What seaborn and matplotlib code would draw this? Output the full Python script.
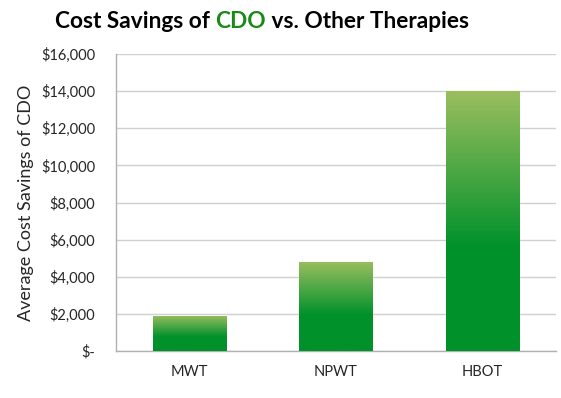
import numpy as np
import pandas as pd
import matplotlib
matplotlib.use("Agg")
import matplotlib.pyplot as plt
from matplotlib.colors import LinearSegmentedColormap
import seaborn as sns

# Chart data
therapies = ["MWT", "NPWT", "HBOT"]
savings = [1900, 4800, 14000]
y_ticks = [0, 2000, 4000, 6000, 8000, 10000, 12000, 14000, 16000]

sns.set_style("white")
plt.rcParams['font.family'] = ['Lato', 'DejaVu Sans']

df = pd.DataFrame({"therapy": therapies, "savings": savings})

fig = plt.figure(figsize=(5.61, 3.98), dpi=100)
ax = fig.add_axes([116 / 561, 1 - 351 / 398, 440 / 561, 297 / 398])

sns.barplot(data=df, x="therapy", y="savings", ax=ax, width=0.5, color="#00912B", zorder=2)

# gradient fill: light green top -> dark green lower part
light = np.array([155, 190, 95]) / 255
dark = np.array([0, 145, 43]) / 255
cmap = LinearSegmentedColormap.from_list("g", [(0, dark), (0.4, dark), (1, light)])
grad = np.linspace(0, 1, 256).reshape(-1, 1)
for p in ax.patches:
    x0, y0 = p.get_x(), p.get_y()
    w, h = p.get_width(), p.get_height()
    im = ax.imshow(grad, cmap=cmap, aspect="auto", origin="lower",
                   extent=[x0, x0 + w, y0, y0 + h], zorder=3)
    im.set_clip_path(p)
    p.set_facecolor("none")
    p.set_edgecolor("none")
ax.set_aspect("auto")
ax.set_xlim(-0.5, 2.5)
ax.set_ylim(0, 16000)

# gridlines
ax.set_yticks(y_ticks)
ax.yaxis.grid(True, color="#d0d0d0", linewidth=1, zorder=0)
ax.set_axisbelow(True)
ax.set_yticklabels(["$-" if v == 0 else f"${v:,}" for v in y_ticks])

# category boundary ticks on x axis
ax.set_xticks([0, 1, 2])
ax.set_xticks([-0.5, 0.5, 1.5, 2.5], minor=True)
ax.tick_params(axis="x", which="major", length=0, pad=10, labelsize=10.5)
ax.tick_params(axis="x", which="minor", length=5, color="#b0b0b0", direction="out")
ax.tick_params(axis="y", length=5, color="#b0b0b0", direction="out", labelsize=10.5, pad=10)

for s in ["top", "right"]:
    ax.spines[s].set_visible(False)
for s in ["left", "bottom"]:
    ax.spines[s].set_color("#b0b0b0")
    ax.spines[s].set_linewidth(1)

ax.set_xlabel("")
ax.set_ylabel("Average Cost Savings of CDO", fontsize=13, labelpad=5)

# multi-colour title
parts = [("Cost Savings of ", "black"), ("CDO", "#178a17"), (" vs. Other Therapies", "black")]
fig.canvas.draw()
renderer = fig.canvas.get_renderer()
texts = []
widths = []
for s, c in parts:
    t = fig.text(0, 0, s, color=c, fontsize=16.3, fontweight="bold", va="center")
    bb = t.get_window_extent(renderer)
    texts.append(t)
    widths.append(bb.width)
total = sum(widths)
x = 262 - total / 2
for t, w in zip(texts, widths):
    t.set_position((x / 561, 1 - 22 / 398))
    x += w

fig.savefig("out.png", dpi=100)
